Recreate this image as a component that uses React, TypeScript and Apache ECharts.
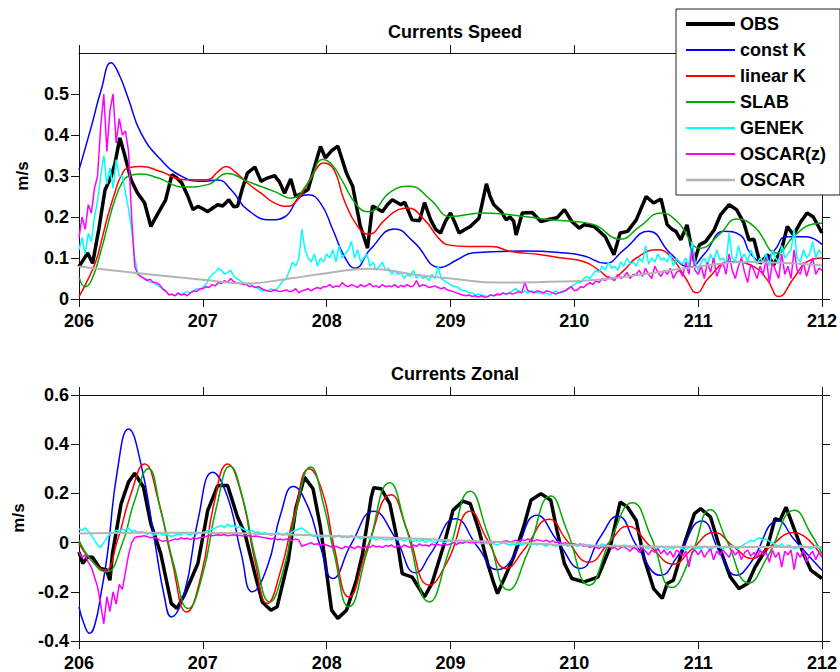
import React, { useEffect, useRef } from 'react';
import * as echarts from 'echarts';

// ---- axes ----
const dayTicks = [206, 207, 208, 209, 210, 211, 212];
const speedTicks = [0, 0.1, 0.2, 0.3, 0.4, 0.5];
const zonalTicks = [-0.4, -0.2, 0, 0.2, 0.4, 0.6];

const seriesNames = ['OBS', 'const K', 'linear K', 'SLAB', 'GENEK', 'OSCAR(z)', 'OSCAR'];
const seriesColors = ['#000000', '#0000ff', '#ff0000', '#00aa00', '#00ffff', '#ff00ff', '#b4b4b4'];
const seriesWidths = [3.5, 1.5, 1.5, 1.5, 1.5, 1.5, 2];

// noisy model output is sampled every 0.025 day from day 206
const T0 = 206;
const STEP = 0.025;

// ---- Currents Speed (m/s) ----
const obsSpeed = [
  [206.0, 0.079], [206.07, 0.112], [206.11, 0.087], [206.16, 0.17], [206.21, 0.266], [206.26, 0.299],
  [206.29, 0.33], [206.33, 0.393], [206.37, 0.35], [206.42, 0.291], [206.47, 0.26], [206.53, 0.234],
  [206.58, 0.177], [206.64, 0.21], [206.7, 0.242], [206.75, 0.303], [206.79, 0.295], [206.83, 0.283],
  [206.88, 0.25], [206.92, 0.218], [206.96, 0.226], [207.0, 0.22], [207.04, 0.213], [207.08, 0.222],
  [207.12, 0.23], [207.16, 0.227], [207.21, 0.242], [207.25, 0.225], [207.28, 0.226], [207.32, 0.27],
  [207.36, 0.307], [207.42, 0.322], [207.47, 0.287], [207.52, 0.295], [207.58, 0.301], [207.62, 0.285],
  [207.66, 0.258], [207.71, 0.293], [207.75, 0.25], [207.8, 0.258], [207.85, 0.267], [207.9, 0.32],
  [207.95, 0.372], [207.99, 0.344], [208.04, 0.362], [208.09, 0.373], [208.16, 0.307], [208.21, 0.275],
  [208.27, 0.18], [208.33, 0.124], [208.37, 0.227], [208.41, 0.22], [208.45, 0.213], [208.49, 0.23],
  [208.53, 0.242], [208.6, 0.23], [208.63, 0.236], [208.69, 0.193], [208.75, 0.191], [208.79, 0.235],
  [208.84, 0.193], [208.88, 0.17], [208.92, 0.161], [208.96, 0.19], [209.0, 0.21], [209.03, 0.19],
  [209.07, 0.161], [209.12, 0.17], [209.16, 0.177], [209.23, 0.197], [209.29, 0.281], [209.32, 0.25],
  [209.35, 0.23], [209.41, 0.213], [209.45, 0.193], [209.48, 0.2], [209.51, 0.19], [209.53, 0.156],
  [209.58, 0.21], [209.66, 0.211], [209.73, 0.189], [209.81, 0.195], [209.86, 0.198], [209.92, 0.218],
  [209.98, 0.189], [210.04, 0.173], [210.08, 0.181], [210.16, 0.177], [210.25, 0.152], [210.32, 0.108],
  [210.37, 0.161], [210.43, 0.165], [210.5, 0.193], [210.58, 0.25], [210.64, 0.234], [210.7, 0.244],
  [210.75, 0.181], [210.79, 0.17], [210.82, 0.165], [210.86, 0.144], [210.91, 0.181], [210.97, 0.091],
  [211.01, 0.132], [211.06, 0.14], [211.13, 0.169], [211.18, 0.205], [211.25, 0.23], [211.31, 0.218],
  [211.37, 0.185], [211.41, 0.144], [211.45, 0.146], [211.5, 0.087], [211.56, 0.108], [211.61, 0.083],
  [211.68, 0.128], [211.72, 0.177], [211.77, 0.156], [211.83, 0.189], [211.88, 0.21], [211.93, 0.2],
  [212.0, 0.161],
];

const constKSpeed = [
  [206.0, 0.315], [206.1, 0.421], [206.18, 0.511], [206.26, 0.576], [206.32, 0.55], [206.4, 0.487],
  [206.5, 0.405], [206.66, 0.34], [206.83, 0.299], [206.99, 0.287], [207.12, 0.29], [207.23, 0.266],
  [207.36, 0.218], [207.55, 0.193], [207.66, 0.2], [207.79, 0.25], [207.85, 0.254], [207.95, 0.234],
  [208.05, 0.169], [208.15, 0.1], [208.23, 0.075], [208.35, 0.12], [208.55, 0.171], [208.7, 0.14],
  [208.92, 0.077], [209.05, 0.095], [209.19, 0.113], [209.59, 0.117], [209.9, 0.113], [210.08, 0.105],
  [210.25, 0.087], [210.4, 0.12], [210.6, 0.165], [210.78, 0.11], [210.93, 0.078], [211.05, 0.11],
  [211.21, 0.165], [211.34, 0.156], [211.42, 0.112], [211.52, 0.09], [211.62, 0.12], [211.71, 0.152],
  [211.87, 0.152], [212.0, 0.133],
];

const linearKSpeed = [
  [206.0, 0.006], [206.06, 0.04], [206.13, 0.087], [206.18, 0.14], [206.23, 0.2], [206.29, 0.26],
  [206.34, 0.3], [206.4, 0.32], [206.5, 0.323], [206.66, 0.311], [206.85, 0.291], [207.04, 0.291],
  [207.12, 0.31], [207.19, 0.323], [207.26, 0.31], [207.36, 0.283], [207.47, 0.258], [207.58, 0.234],
  [207.69, 0.226], [207.76, 0.24], [207.82, 0.267], [207.9, 0.31], [207.98, 0.332], [208.06, 0.315],
  [208.14, 0.242], [208.25, 0.177], [208.34, 0.158], [208.47, 0.193], [208.58, 0.218], [208.65, 0.222],
  [208.79, 0.193], [208.9, 0.15], [208.98, 0.132], [209.14, 0.128], [209.33, 0.128], [209.49, 0.116],
  [209.73, 0.108], [209.9, 0.1], [210.08, 0.091], [210.2, 0.07], [210.3, 0.05], [210.4, 0.07],
  [210.5, 0.1], [210.67, 0.12], [210.78, 0.103], [210.9, 0.05], [210.99, 0.015], [211.08, 0.05],
  [211.26, 0.091], [211.45, 0.079], [211.56, 0.046], [211.65, 0.006], [211.77, 0.05], [211.88, 0.091],
  [212.0, 0.1],
];

const slabSpeed = [
  [206.0, 0.054], [206.05, 0.03], [206.1, 0.045], [206.18, 0.12], [206.24, 0.19], [206.29, 0.242],
  [206.35, 0.285], [206.4, 0.3], [206.5, 0.305], [206.64, 0.295], [206.85, 0.273], [207.04, 0.279],
  [207.2, 0.306], [207.36, 0.287], [207.58, 0.262], [207.71, 0.246], [207.85, 0.283], [207.97, 0.34],
  [208.05, 0.325], [208.12, 0.291], [208.25, 0.226], [208.34, 0.213], [208.52, 0.262], [208.67, 0.275],
  [208.84, 0.242], [209.0, 0.201], [209.27, 0.21], [209.59, 0.201], [209.85, 0.192], [210.0, 0.189],
  [210.16, 0.181], [210.37, 0.146], [210.53, 0.177], [210.7, 0.21], [210.83, 0.189], [211.02, 0.124],
  [211.18, 0.16], [211.31, 0.195], [211.45, 0.177], [211.64, 0.112], [211.77, 0.152], [211.93, 0.183],
  [212.0, 0.185],
];

const genekSpeed = [
  // 206.0
  0.12, 0.15, 0.11, 0.16, 0.14, 0.2, 0.24, 0.3, 0.35, 0.28, 0.32, 0.27, 0.34, 0.3, 0.3, 0.26, 0.22, 0.17, 0.1, 0.06,
  // 206.5
  0.055, 0.05, 0.048, 0.04, 0.042, 0.035, 0.03, 0.025, 0.018, 0.012, 0.01, 0.008, 0.012, 0.01, 0.015, 0.018, 0.015, 0.02, 0.025, 0.022,
  // 207.0
  0.03, 0.035, 0.05, 0.06, 0.065, 0.075, 0.07, 0.06, 0.065, 0.07, 0.055, 0.05, 0.045, 0.04, 0.035, 0.04, 0.03, 0.03, 0.025, 0.02,
  // 207.5
  0.02, 0.02, 0.025, 0.02, 0.025, 0.035, 0.045, 0.05, 0.07, 0.09, 0.08, 0.1, 0.17, 0.12, 0.1, 0.09, 0.11, 0.08, 0.1, 0.09,
  // 208.0
  0.11, 0.1, 0.12, 0.09, 0.13, 0.1, 0.11, 0.12, 0.14, 0.1, 0.12, 0.09, 0.1, 0.11, 0.08, 0.09, 0.07, 0.08, 0.09, 0.07,
  // 208.5
  0.075, 0.06, 0.07, 0.06, 0.065, 0.05, 0.06, 0.055, 0.07, 0.05, 0.06, 0.05, 0.055, 0.045, 0.06, 0.05, 0.08, 0.05, 0.045, 0.04,
  // 209.0
  0.035, 0.03, 0.03, 0.025, 0.02, 0.02, 0.015, 0.015, 0.01, 0.012, 0.01, 0.008, 0.005, 0.01, 0.008, 0.01, 0.012, 0.015, 0.01, 0.015,
  // 209.5
  0.02, 0.025, 0.02, 0.015, 0.02, 0.015, 0.02, 0.018, 0.015, 0.015, 0.012, 0.015, 0.01, 0.015, 0.02, 0.015, 0.015, 0.02, 0.025, 0.03,
  // 210.0
  0.035, 0.04, 0.04, 0.05, 0.055, 0.05, 0.06, 0.07, 0.065, 0.08, 0.07, 0.09, 0.075, 0.08, 0.07, 0.09, 0.08, 0.1, 0.085, 0.09,
  // 210.5
  0.08, 0.1, 0.09, 0.13, 0.085, 0.1, 0.09, 0.11, 0.095, 0.1, 0.09, 0.11, 0.08, 0.1, 0.09, 0.085, 0.1, 0.08, 0.14, 0.09,
  // 211.0
  0.07, 0.09, 0.1, 0.08, 0.11, 0.09, 0.12, 0.095, 0.1, 0.085, 0.16, 0.1, 0.09, 0.13, 0.1, 0.11, 0.09, 0.12, 0.1, 0.085,
  // 211.5 - 212.0
  0.1, 0.09, 0.11, 0.08, 0.12, 0.1, 0.09, 0.13, 0.1, 0.11, 0.12, 0.17, 0.1, 0.09, 0.12, 0.1, 0.11, 0.14, 0.1, 0.12, 0.11,
];

const oscarzSpeed = [
  // 206.0
  0.15, 0.2, 0.17, 0.23, 0.21, 0.27, 0.3, 0.42, 0.5, 0.36, 0.46, 0.5, 0.38, 0.44, 0.4, 0.41, 0.36, 0.2, 0.08, 0.06,
  // 206.5
  0.055, 0.05, 0.045, 0.048, 0.04, 0.04, 0.035, 0.025, 0.02, 0.01, 0.012, 0.008, 0.015, 0.01, 0.012, 0.008, 0.015, 0.02, 0.018, 0.025,
  // 207.0
  0.025, 0.03, 0.028, 0.035, 0.032, 0.04, 0.038, 0.045, 0.04, 0.05, 0.042, 0.04, 0.038, 0.035, 0.036, 0.03, 0.032, 0.028, 0.03, 0.025,
  // 207.5
  0.022, 0.02, 0.018, 0.022, 0.02, 0.018, 0.02, 0.022, 0.018, 0.02, 0.025, 0.015, 0.02, 0.022, 0.025, 0.02, 0.025, 0.028, 0.025, 0.03,
  // 208.0
  0.03, 0.035, 0.028, 0.032, 0.03, 0.04, 0.033, 0.03, 0.035, 0.032, 0.028, 0.035, 0.03, 0.033, 0.038, 0.03, 0.032, 0.028, 0.035, 0.03,
  // 208.5
  0.032, 0.03, 0.035, 0.028, 0.033, 0.03, 0.035, 0.03, 0.032, 0.045, 0.03, 0.035, 0.033, 0.028, 0.03, 0.032, 0.028, 0.025, 0.028, 0.022,
  // 209.0
  0.02, 0.018, 0.015, 0.012, 0.01, 0.008, 0.01, 0.006, 0.008, 0.005, 0.008, 0.004, 0.006, 0.01, 0.008, 0.012, 0.01, 0.015, 0.012, 0.015,
  // 209.5
  0.012, 0.015, 0.018, 0.015, 0.04, 0.02, 0.018, 0.015, 0.02, 0.018, 0.015, 0.02, 0.018, 0.015, 0.012, 0.015, 0.018, 0.02, 0.025, 0.03,
  // 210.0
  0.02, 0.022, 0.03, 0.028, 0.035, 0.04, 0.035, 0.045, 0.04, 0.05, 0.045, 0.055, 0.05, 0.045, 0.06, 0.05, 0.055, 0.065, 0.05, 0.06,
  // 210.5
  0.06, 0.07, 0.055, 0.075, 0.06, 0.05, 0.08, 0.065, 0.055, 0.07, 0.06, 0.075, 0.05, 0.065, 0.07, 0.055, 0.09, 0.06, 0.12, 0.07,
  // 211.0
  0.06, 0.08, 0.05, 0.09, 0.065, 0.1, 0.055, 0.075, 0.09, 0.06, 0.11, 0.07, 0.05, 0.08, 0.1, 0.065, 0.04, 0.085, 0.07, 0.05,
  // 211.5 - 212.0
  0.08, 0.06, 0.1, 0.04, 0.09, 0.07, 0.05, 0.11, 0.06, 0.08, 0.05, 0.12, 0.07, 0.06, 0.09, 0.055, 0.08, 0.1, 0.06, 0.075, 0.07,
];

const oscarSpeed = [
  [206.0, 0.079], [206.5, 0.062], [207.0, 0.047], [207.35, 0.038], [207.7, 0.05], [208.0, 0.063],
  [208.35, 0.074], [208.7, 0.06], [209.0, 0.05], [209.4, 0.04], [209.8, 0.042], [210.1, 0.045],
  [210.5, 0.058], [211.0, 0.079], [211.4, 0.09], [211.7, 0.088], [212.0, 0.082],
];

// ---- Currents Zonal (m/s) ----
const obsZonal = [
  [206.0, -0.038], [206.03, -0.085], [206.07, -0.058], [206.11, -0.06], [206.17, -0.105], [206.22, -0.11],
  [206.25, -0.153], [206.27, -0.045], [206.34, 0.158], [206.4, 0.246], [206.45, 0.282], [206.52, 0.226],
  [206.58, 0.077], [206.66, -0.045], [206.745, -0.247], [206.79, -0.268], [206.85, -0.214], [206.96, -0.085],
  [207.04, 0.131], [207.12, 0.232], [207.2, 0.232], [207.28, 0.104], [207.34, 0.037], [207.42, -0.126],
  [207.48, -0.241], [207.55, -0.275], [207.6, -0.261], [207.69, -0.072], [207.75, 0.138], [207.82, 0.266],
  [207.89, 0.219], [207.95, 0.063], [208.04, -0.275], [208.09, -0.308], [208.16, -0.275], [208.24, -0.153],
  [208.29, -0.045], [208.36, 0.185], [208.38, 0.223], [208.44, 0.219], [208.51, 0.158], [208.56, 0.037],
  [208.61, -0.126], [208.69, -0.14], [208.79, -0.221], [208.85, -0.166], [208.95, -0.004], [209.02, 0.131],
  [209.1, 0.169], [209.16, 0.158], [209.23, 0.05], [209.3, -0.085], [209.35, -0.166], [209.38, -0.207],
  [209.44, -0.14], [209.51, -0.058], [209.59, 0.063], [209.65, 0.172], [209.73, 0.199], [209.81, 0.172],
  [209.86, 0.05], [209.92, -0.085], [209.98, -0.146], [210.08, -0.16], [210.19, -0.14], [210.29, -0.018],
  [210.37, 0.165], [210.43, 0.144], [210.5, 0.09], [210.56, -0.058], [210.64, -0.187], [210.71, -0.227],
  [210.75, -0.166], [210.8, -0.153], [210.88, -0.018], [210.97, 0.118], [211.02, 0.138], [211.1, 0.104],
  [211.18, -0.031], [211.26, -0.14], [211.33, -0.187], [211.4, -0.166], [211.46, -0.099], [211.56, -0.018],
  [211.62, 0.097], [211.66, 0.09], [211.71, 0.144], [211.77, 0.063], [211.85, -0.045], [211.91, -0.112],
  [212.0, -0.146],
];

const constKZonal = [
  [206.0, -0.261], [206.04, -0.33], [206.086, -0.369], [206.13, -0.33], [206.18, -0.2], [206.23, -0.045],
  [206.31, 0.293], [206.4, 0.462], [206.5, 0.32], [206.61, 0.009], [206.69, -0.221], [206.745, -0.302],
  [206.85, -0.207], [206.96, 0.09], [207.08, 0.286], [207.2, 0.185], [207.31, -0.045], [207.4, -0.2],
  [207.52, -0.099], [207.63, 0.118], [207.73, 0.228], [207.85, 0.144], [207.95, -0.018], [208.05, -0.146],
  [208.2, -0.004], [208.38, 0.127], [208.55, 0.023], [208.72, -0.123], [208.84, -0.045], [209.04, 0.097],
  [209.22, -0.018], [209.38, -0.11], [209.49, -0.072], [209.7, 0.111], [209.86, 0.009], [210.05, -0.105],
  [210.21, 0.023], [210.35, 0.107], [210.51, -0.018], [210.7, -0.133], [210.83, -0.058], [211.03, 0.088],
  [211.18, -0.045], [211.31, -0.133], [211.42, -0.085], [211.65, 0.088], [211.77, 0.016], [212.0, -0.112],
];

const linearKZonal = [
  [206.0, -0.004], [206.1, -0.072], [206.21, -0.112], [206.31, 0.009], [206.42, 0.199], [206.53, 0.32],
  [206.64, 0.172], [206.75, -0.072], [206.87, -0.282], [206.99, -0.126], [207.09, 0.158], [207.2, 0.32],
  [207.31, 0.199], [207.42, -0.072], [207.52, -0.247], [207.63, -0.112], [207.74, 0.118], [207.86, 0.3],
  [207.97, 0.199], [208.06, -0.018], [208.18, -0.221], [208.33, -0.018], [208.52, 0.195], [208.65, 0.05],
  [208.83, -0.173], [208.98, -0.072], [209.16, 0.127], [209.3, 0.009], [209.45, -0.105], [209.59, -0.031],
  [209.8, 0.095], [209.94, 0.009], [210.12, -0.08], [210.28, 0.0], [210.43, 0.066], [210.62, -0.018],
  [210.8, -0.088], [210.94, -0.031], [211.13, 0.041], [211.29, -0.018], [211.44, -0.065], [211.56, -0.024],
  [211.77, 0.041], [212.0, -0.058],
];

const slabZonal = [
  [206.0, 0.009], [206.1, -0.072], [206.22, -0.119], [206.34, -0.018], [206.45, 0.172], [206.56, 0.3],
  [206.66, 0.131], [206.77, -0.099], [206.88, -0.268], [207.0, -0.126], [207.11, 0.144], [207.22, 0.31],
  [207.32, 0.185], [207.43, -0.072], [207.54, -0.241], [207.65, -0.112], [207.75, 0.118], [207.87, 0.307],
  [207.98, 0.144], [208.06, -0.045], [208.18, -0.261], [208.33, -0.031], [208.51, 0.243], [208.64, 0.063],
  [208.83, -0.241], [208.99, -0.031], [209.16, 0.209], [209.3, 0.037], [209.47, -0.193], [209.62, -0.045],
  [209.81, 0.189], [209.94, 0.05], [210.12, -0.173], [210.29, 0.009], [210.47, 0.162], [210.62, 0.023],
  [210.79, -0.183], [210.94, -0.058], [211.1, 0.134], [211.23, 0.009], [211.41, -0.164], [211.56, -0.058],
  [211.78, 0.131], [211.91, 0.037], [212.0, -0.045],
];

const genekZonal = [
  // 206.0
  0.055, 0.05, 0.06, 0.045, 0.03, 0.01, -0.01, -0.02, 0.0, 0.02, 0.035, 0.04, 0.05, 0.045, 0.055, 0.05, 0.06, 0.045, 0.05, 0.04,
  // 206.5
  0.045, 0.04, 0.035, 0.04, 0.03, 0.035, 0.04, 0.03, 0.035, 0.03, 0.025, 0.03, 0.035, 0.03, 0.04, 0.035, 0.03, 0.04, 0.035, 0.04,
  // 207.0
  0.04, 0.045, 0.05, 0.055, 0.06, 0.065, 0.07, 0.06, 0.075, 0.065, 0.07, 0.06, 0.065, 0.055, 0.05, 0.045, 0.05, 0.04, 0.045, 0.035,
  // 207.5
  0.04, 0.035, 0.03, 0.035, 0.04, 0.035, 0.03, 0.04, 0.035, 0.045, 0.05, 0.055, 0.06, 0.05, 0.04, 0.03, 0.025, 0.03, 0.02, 0.025,
  // 208.0
  0.025, 0.03, 0.02, 0.025, 0.03, 0.02, 0.025, 0.02, 0.03, 0.02, 0.025, 0.015, 0.02, 0.025, 0.015, 0.02, 0.01, 0.02, 0.015, 0.01,
  // 208.5
  0.015, 0.01, 0.02, 0.01, 0.015, 0.005, 0.015, 0.01, 0.005, 0.01, 0.005, 0.01, 0.0, 0.01, 0.005, 0.0, 0.01, 0.005, 0.0, 0.005,
  // 209.0
  0.005, 0.0, 0.005, -0.005, 0.0, 0.005, 0.0, -0.005, 0.0, 0.0, -0.005, 0.0, -0.005, 0.0, -0.005, -0.01, -0.005, 0.0, -0.005, -0.01,
  // 209.5
  -0.005, -0.01, -0.005, -0.01, -0.005, 0.0, -0.01, -0.005, -0.01, -0.005, -0.01, -0.015, -0.005, -0.01, -0.015, -0.01, -0.005, -0.01, -0.015, -0.01,
  // 210.0
  -0.01, -0.015, -0.01, -0.005, -0.015, -0.01, -0.02, -0.01, -0.015, -0.005, -0.01, -0.015, -0.02, -0.01, -0.015, -0.02, -0.01, -0.015, -0.02, -0.025,
  // 210.5
  -0.015, -0.02, -0.01, -0.02, -0.025, -0.015, -0.02, -0.025, -0.015, -0.02, -0.03, -0.02, -0.025, -0.015, -0.02, -0.025, -0.03, -0.02, -0.015, -0.025,
  // 211.0
  -0.02, -0.025, -0.015, -0.02, -0.03, -0.02, -0.01, -0.02, -0.025, -0.015, -0.02, -0.01, -0.02, -0.025, -0.015, -0.005, 0.0, 0.01, 0.005, 0.015,
  // 211.5 - 212.0
  0.02, 0.01, 0.015, 0.005, 0.0, -0.01, -0.015, -0.005, -0.02, -0.01, -0.015, -0.025, -0.02, -0.01, -0.02, -0.015, -0.025, -0.02, -0.01, -0.02, -0.025,
];

const oscarzZonal = [
  // 206.0
  -0.04, -0.06, -0.05, -0.08, -0.1, -0.14, -0.18, -0.25, -0.33, -0.22, -0.28, -0.2, -0.25, -0.17, -0.19, -0.12, -0.05, 0.0, 0.02, 0.025,
  // 206.5
  0.025, 0.028, 0.025, 0.02, 0.022, 0.018, 0.01, 0.005, 0.008, 0.005, 0.01, 0.015, 0.012, 0.02, 0.015, 0.018, 0.012, 0.02, 0.015, 0.02,
  // 207.0
  0.022, 0.025, 0.03, 0.028, 0.03, 0.032, 0.03, 0.033, 0.028, 0.03, 0.032, 0.028, 0.03, 0.027, 0.03, 0.028, 0.025, 0.027, 0.025, 0.022,
  // 207.5
  0.02, 0.018, 0.015, 0.018, 0.012, 0.015, 0.01, 0.015, 0.012, 0.01, 0.015, 0.01, -0.015, -0.01, -0.005, 0.0, -0.008, -0.005, -0.01, -0.008,
  // 208.0
  -0.01, -0.015, -0.02, -0.015, -0.02, -0.025, -0.015, -0.02, -0.018, -0.025, -0.015, -0.02, -0.022, -0.015, -0.02, -0.01, -0.018, -0.015, -0.02, -0.012,
  // 208.5
  -0.015, -0.01, -0.02, -0.012, -0.018, -0.01, -0.015, -0.02, -0.01, -0.015, -0.005, -0.012, -0.01, -0.015, -0.005, -0.01, -0.008, -0.012, -0.005, -0.01,
  // 209.0
  -0.005, 0.0, -0.008, 0.002, -0.003, 0.005, 0.0, 0.003, -0.002, 0.005, 0.0, 0.004, 0.002, 0.006, 0.0, 0.004, 0.002, 0.005, 0.008, 0.003,
  // 209.5
  0.005, 0.01, 0.004, 0.012, 0.008, 0.015, 0.01, 0.006, 0.012, 0.008, 0.005, 0.01, 0.002, 0.008, 0.0, 0.005, -0.005, 0.0, -0.008, -0.005,
  // 210.0
  -0.005, -0.01, -0.005, -0.015, -0.01, -0.02, -0.012, -0.018, -0.025, -0.015, -0.02, -0.01, -0.025, -0.018, -0.03, -0.02, -0.015, -0.025, -0.035, -0.02,
  // 210.5
  -0.025, -0.04, -0.02, -0.035, -0.05, -0.03, -0.04, -0.025, -0.045, -0.03, -0.05, -0.035, -0.06, -0.03, -0.04, -0.055, -0.035, -0.1, -0.04, -0.03,
  // 211.0
  -0.05, -0.03, -0.06, -0.04, -0.025, -0.07, -0.035, -0.05, -0.03, -0.045, -0.06, -0.03, -0.05, -0.035, -0.07, -0.04, -0.03, -0.055, -0.04, -0.06,
  // 211.5 - 212.0
  -0.03, -0.05, -0.04, -0.08, -0.03, -0.06, -0.04, -0.1, -0.035, -0.05, -0.03, -0.11, -0.04, -0.06, -0.03, -0.08, -0.05, -0.035, -0.07, -0.04, -0.06,
];

const oscarZonal = [
  [206.0, 0.037], [206.5, 0.04], [207.0, 0.04], [207.5, 0.035], [208.0, 0.028], [208.5, 0.02],
  [209.0, 0.01], [209.5, 0.0], [210.0, -0.01], [210.5, -0.015], [211.0, -0.017], [211.5, -0.018],
  [212.0, -0.018],
];

const FONT = '"Liberation Sans", Arial, Helvetica, sans-serif';

const sampled = (vals: number[]) => vals.map((v, i) => [T0 + i * STEP, v]);

function buildSeries(panel: number, sets: { data: number[][]; smooth: boolean }[]) {
  return sets.map((s, k) => ({
    type: 'line',
    name: seriesNames[k],
    xAxisIndex: panel * 2,
    yAxisIndex: panel * 2,
    data: s.data,
    smooth: s.smooth,
    showSymbol: false,
    symbol: 'none',
    silent: true,
    clip: true,
    color: seriesColors[k],
    lineStyle: { color: seriesColors[k], width: seriesWidths[k] },
    emphasis: { disabled: true },
  }));
}

const labelStyle = { fontFamily: FONT, fontWeight: 'bold', fontSize: 18, color: '#000' };
const lineStyle = { color: '#111', width: 1 };

function xAxes(grid: number) {
  const base = {
    type: 'value',
    gridIndex: grid,
    min: 206,
    max: 212,
    interval: 1,
    splitLine: { show: false },
    axisLine: { show: true, onZero: false, lineStyle },
    axisTick: { show: true, inside: false, length: 8, lineStyle },
  };
  return [
    { ...base, position: 'bottom', axisLabel: { ...labelStyle, margin: 13, formatter: (v: number) => String(v) } },
    { ...base, position: 'top', axisLabel: { show: false } },
  ];
}

function yAxes(grid: number, min: number, max: number, ticks: number[]) {
  const base = {
    type: 'value',
    gridIndex: grid,
    min,
    max,
    splitLine: { show: false },
    axisLine: { show: true, onZero: false, lineStyle },
    axisTick: { show: true, inside: false, length: 8, lineStyle, customValues: ticks },
  };
  return [
    {
      ...base,
      position: 'left',
      name: 'm/s',
      nameLocation: 'middle',
      nameGap: 48,
      nameRotate: 90,
      nameTextStyle: { fontFamily: FONT, fontWeight: 'bold', fontSize: 17, color: '#000' },
      axisLabel: { ...labelStyle, margin: 10, customValues: ticks, formatter: (v: number) => String(Math.round(v * 10) / 10) },
    },
    { ...base, position: 'right', axisLabel: { show: false } },
  ];
}

export default function App() {
  const ref = useRef<HTMLDivElement>(null);

  useEffect(() => {
    if (!ref.current) return;
    const chart = echarts.init(ref.current, undefined, { renderer: 'svg' });

    const speedSeries = buildSeries(0, [
      { data: obsSpeed, smooth: false },
      { data: constKSpeed, smooth: true },
      { data: linearKSpeed, smooth: true },
      { data: slabSpeed, smooth: true },
      { data: sampled(genekSpeed), smooth: false },
      { data: sampled(oscarzSpeed), smooth: false },
      { data: oscarSpeed, smooth: true },
    ]);
    const zonalSeries = buildSeries(1, [
      { data: obsZonal, smooth: false },
      { data: constKZonal, smooth: true },
      { data: linearKZonal, smooth: true },
      { data: slabZonal, smooth: true },
      { data: sampled(genekZonal), smooth: false },
      { data: sampled(oscarzZonal), smooth: false },
      { data: oscarZonal, smooth: true },
    ]);

    chart.setOption({
      animation: false,
      backgroundColor: '#ffffff',
      title: [
        { text: 'Currents Speed', left: 450, top: 18, textAlign: 'center', textStyle: { ...labelStyle } },
        { text: 'Currents Zonal', left: 450, top: 360, textAlign: 'center', textStyle: { ...labelStyle } },
      ],
      grid: [
        { left: 79, top: 53, width: 744, height: 246 },
        { left: 79, top: 395, width: 744, height: 246 },
      ],
      xAxis: [...xAxes(0), ...xAxes(1)],
      yAxis: [...yAxes(0, 0, 0.6, speedTicks), ...yAxes(1, -0.4, 0.6, zonalTicks)],
      legend: {
        orient: 'vertical',
        left: 676,
        top: 9,
        padding: [6, 14, 6, 10],
        itemWidth: 49,
        itemHeight: 14,
        itemGap: 8,
        selectedMode: false,
        backgroundColor: '#ffffff',
        borderColor: '#222',
        borderWidth: 1,
        borderRadius: 0,
        textStyle: { fontFamily: FONT, fontWeight: 'bold', fontSize: 18, color: '#000' },
        data: seriesNames.map((name, k) => ({
          name,
          icon: `path://M0,0H49V${seriesWidths[k] + 0.4}H0Z`,
          itemStyle: { color: seriesColors[k], borderWidth: 0 },
        })),
      },
      series: [...speedSeries, ...zonalSeries],
    });

    return () => chart.dispose();
  }, []);

  return (
    <div
      ref={ref}
      style={{ position: 'fixed', left: 0, top: 0, width: 840, height: 672, background: '#fff' }}
    />
  );
}
